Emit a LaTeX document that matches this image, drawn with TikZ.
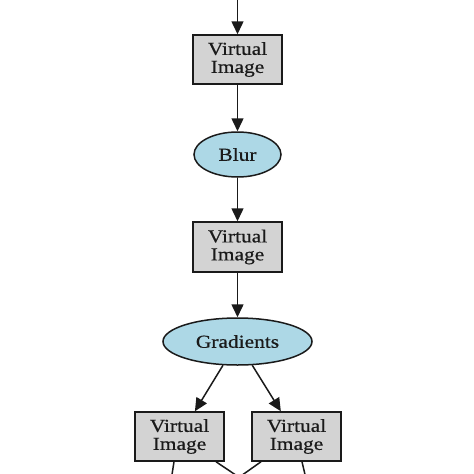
\documentclass[tikz,border=0pt]{standalone}
\usepackage{fontspec}
\setmainfont{Liberation Serif}[FakeStretch=1.17,FakeBold=0.6]
\usetikzlibrary{arrows.meta,shapes.geometric}
\definecolor{boxgray}{HTML}{D3D3D3}
\definecolor{opblue}{HTML}{ADD8E6}
\definecolor{ink}{HTML}{1A1A1A}
\tikzset{
  vimg/.style={draw=ink, fill=boxgray, line width=1.5pt, rectangle,
    minimum width=89pt, minimum height=49pt, inner sep=0pt, align=center,
    text=ink, font=\fontsize{18.3}{18}\selectfont},
  opnode/.style={draw=ink, fill=opblue, line width=1.5pt, ellipse,
    inner sep=0pt, text=ink, font=\fontsize{18.3}{18}\selectfont},
  edge/.style={draw=ink, line width=1.5pt, -{Triangle[length=13pt,width=12pt]}},
  plain/.style={draw=ink, line width=1.5pt}
}
\begin{document}
\begin{tikzpicture}[x=1pt,y=-1pt]
\useasboundingbox (0,0) rectangle (474,474);
\clip (0,0) rectangle (474,474);
\fill[white] (0,0) rectangle (474,474);
\node[vimg] (v1) at (237.5,59.5) {Virtual\\Image};
\node[opnode, minimum width=87pt, minimum height=45pt] (blur) at (237.5,154.5) {Blur};
\node[vimg, minimum height=50pt] (v2) at (237.5,247) {Virtual\\Image};
\node[opnode, minimum width=149pt, minimum height=47pt] (grad) at (237.5,341.5) {Gradients};
\node[vimg] (v3) at (179.5,436.5) {Virtual\\Image};
\node[vimg] (v4) at (296.5,436.5) {Virtual\\Image};
\coordinate (top) at (237.5,-20);
\coordinate (oa) at (168,500);
\coordinate (ob) at (273,500);
\coordinate (oc) at (207,500);
\coordinate (od) at (311,500);
\draw[edge] (top) -- (v1);
\draw[edge] (v1) -- (blur);
\draw[edge] (blur) -- (v2);
\draw[edge] (v2) -- (grad);
\draw[edge] (grad) -- (v3);
\draw[edge] (grad) -- (v4);
\draw[plain] ([xshift=-5.5pt]v3.south) -- (oa);
\draw[plain] ([xshift=36.5pt]v3.south) -- (ob);
\draw[plain] ([xshift=-35.5pt]v4.south) -- (oc);
\draw[plain] ([xshift=5.5pt]v4.south) -- (od);
\end{tikzpicture}
\end{document}
